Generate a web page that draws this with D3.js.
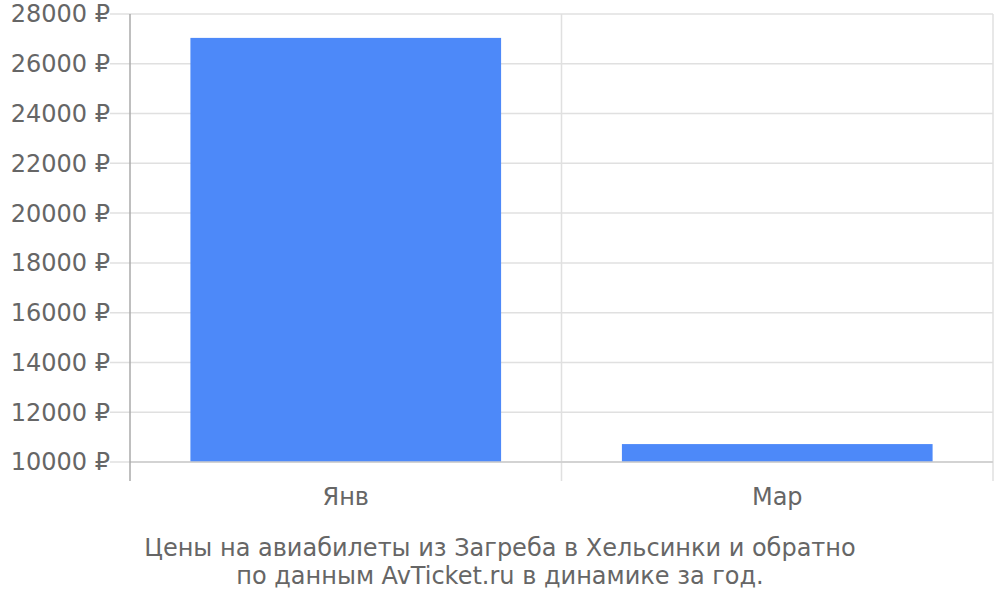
<!DOCTYPE html>
<html>
<head>
<meta charset="utf-8">
<script src="https://cdn.jsdelivr.net/npm/d3@7"></script>
<style>
  body { margin: 0; background: #fff; }
  svg text { font-family: "DejaVu Sans", sans-serif; fill: #666; }
</style>
</head>
<body>
<svg id="chart" width="1000" height="600"></svg>
<script>
var months = ['Янв', 'Мар'];
var prices = [27040, 10720];
var yTicks = [10000, 12000, 14000, 16000, 18000, 20000, 22000, 24000, 26000, 28000];
var titleLines = ['Цены на авиабилеты из Загреба в Хельсинки и обратно', 'по данным AvTicket.ru в динамике за год.'];

var margin = { top: 14, right: 7, bottom: 138, left: 130 };
var width = 1000 - margin.left - margin.right;
var height = 600 - margin.top - margin.bottom;

var svg = d3.select('#chart');
var g = svg.append('g')
  .attr('transform', 'translate(' + margin.left + ',' + margin.top + ')');

var x = d3.scaleBand()
  .domain(months)
  .range([0, width]);

var y = d3.scaleLinear()
  .domain([10000, 28000])
  .range([height, 0]);

// горизонтальная сетка
g.selectAll('.hgrid')
  .data(yTicks)
  .enter()
  .append('line')
  .attr('x1', -20)
  .attr('x2', width)
  .attr('y1', function(d) { return y(d); })
  .attr('y2', function(d) { return y(d); })
  .attr('stroke', '#e0e0e0')
  .attr('stroke-width', 1.5);

// вертикальная сетка
var edges = months.map(function(m) { return x(m); }).concat([width]);
g.selectAll('.vgrid')
  .data(edges.slice(1))
  .enter()
  .append('line')
  .attr('x1', function(d) { return d; })
  .attr('x2', function(d) { return d; })
  .attr('y1', 0)
  .attr('y2', height + 19)
  .attr('stroke', '#e0e0e0')
  .attr('stroke-width', 1.5);

// столбцы
var barRatio = 0.72;
g.selectAll('.bar')
  .data(prices)
  .enter()
  .append('rect')
  .attr('x', function(d, i) { return x(months[i]) + x.bandwidth() * (1 - barRatio) / 2; })
  .attr('y', function(d) { return y(d); })
  .attr('width', x.bandwidth() * barRatio)
  .attr('height', function(d) { return height - y(d); })
  .attr('fill', '#4d89f9');

// нижняя линия
g.append('line')
  .attr('x1', 0)
  .attr('x2', width)
  .attr('y1', height)
  .attr('y2', height)
  .attr('stroke', '#ccc')
  .attr('stroke-width', 1.5);

// левая ось
g.append('line')
  .attr('x1', 0)
  .attr('x2', 0)
  .attr('y1', 0)
  .attr('y2', height + 19)
  .attr('stroke', '#aaa')
  .attr('stroke-width', 1.5);

// подписи оси Y
g.selectAll('.ylabel')
  .data(yTicks)
  .enter()
  .append('text')
  .attr('x', -20)
  .attr('y', function(d) { return y(d); })
  .attr('dy', '0.35em')
  .attr('text-anchor', 'end')
  .style('font-size', '24px')
  .text(function(d) { return d + ' ₽'; });

// подписи оси X
g.selectAll('.xlabel')
  .data(months)
  .enter()
  .append('text')
  .attr('x', function(d) { return x(d) + x.bandwidth() / 2; })
  .attr('y', height + 43)
  .attr('text-anchor', 'middle')
  .style('font-size', '24px')
  .text(function(d) { return d; });

// заголовок
svg.selectAll('.title')
  .data(titleLines)
  .enter()
  .append('text')
  .attr('x', 500)
  .attr('y', function(d, i) { return 556 + i * 28; })
  .attr('text-anchor', 'middle')
  .style('font-size', '24px')
  .text(function(d) { return d; });
</script>
</body>
</html>
